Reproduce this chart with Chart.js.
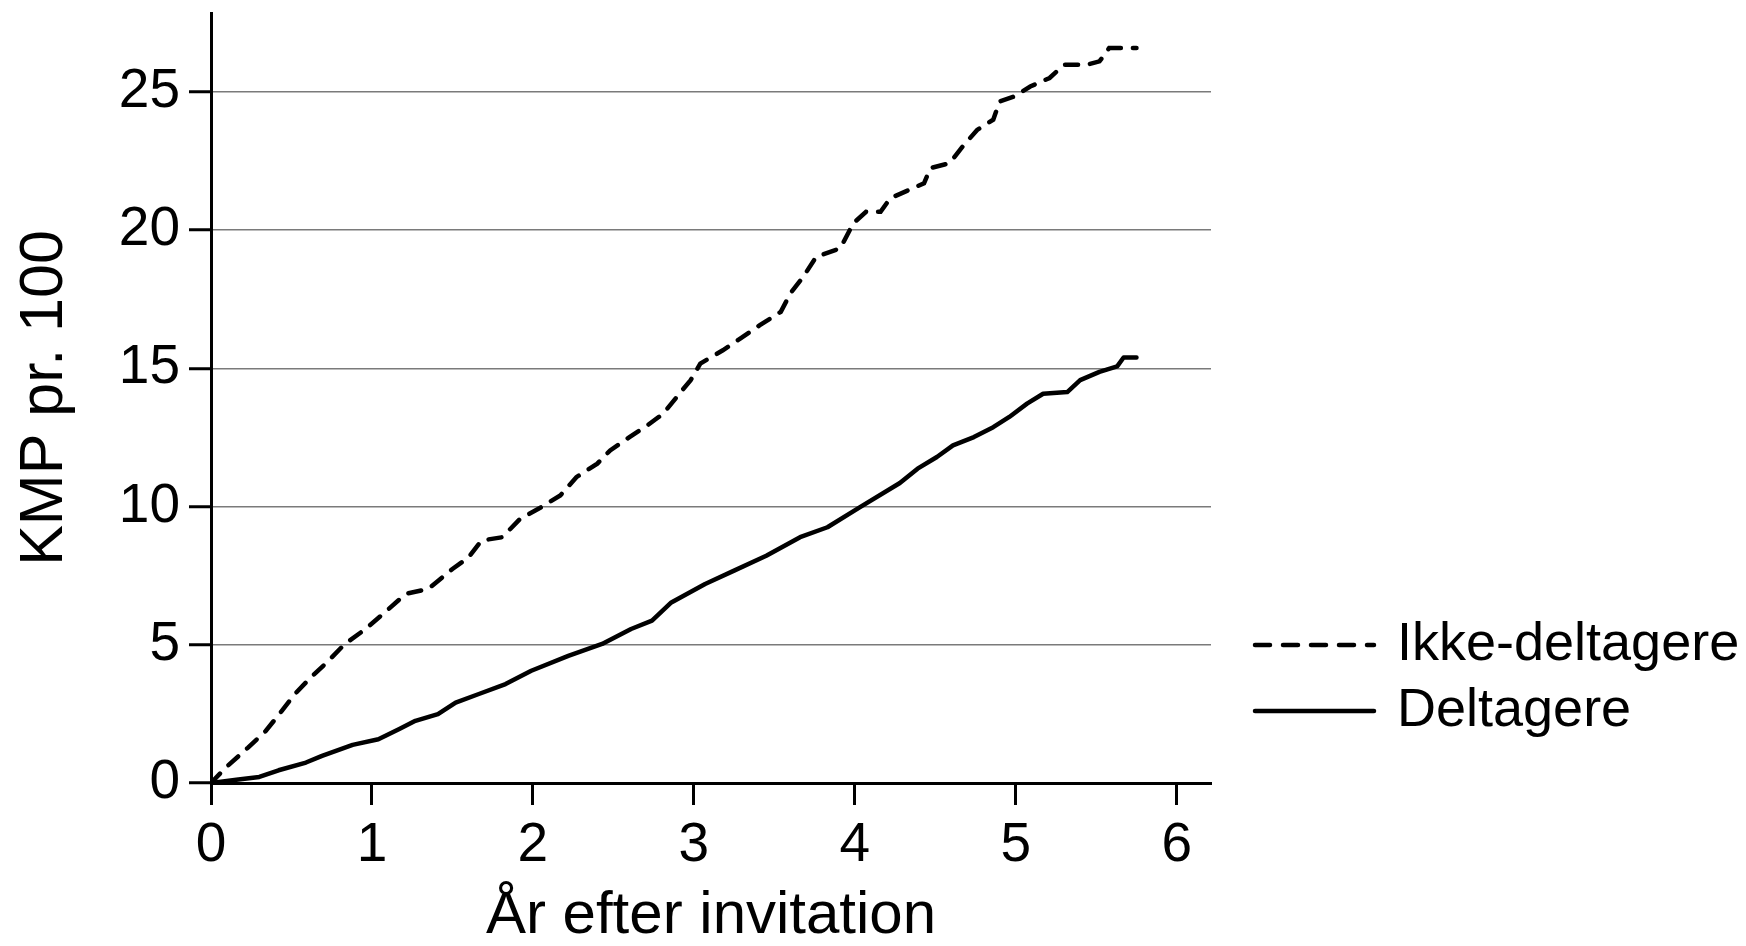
<!DOCTYPE html>
<html>
<head>
<meta charset="utf-8">
<script src="https://cdn.jsdelivr.net/npm/chart.js@4/dist/chart.umd.min.js"></script>
<style>
  body { margin: 0; background: #fff; }
  canvas { display: block; }
</style>
</head>
<body>
<canvas id="kmp" width="1746" height="946"></canvas>
<script>
// years after invitation / KMP per 100
var ikkeX = [0, 0.09, 0.23, 0.34, 0.44, 0.52, 0.61, 0.73, 0.83, 0.96, 1.08, 1.21, 1.35, 1.50, 1.60, 1.68, 1.81, 1.92, 2.05, 2.17, 2.27, 2.40, 2.48, 2.60, 2.71, 2.81, 2.91, 2.98, 3.04, 3.18, 3.29, 3.41, 3.54, 3.60, 3.68, 3.76, 3.91, 3.99, 4.07, 4.16, 4.22, 4.36, 4.43, 4.47, 4.59, 4.67, 4.76, 4.86, 4.90, 4.99, 5.09, 5.21, 5.30, 5.44, 5.52, 5.58, 5.75];
var ikkeY = [0, 0.55, 1.28, 1.88, 2.61, 3.21, 3.76, 4.42, 5.02, 5.57, 6.17, 6.84, 7.02, 7.74, 8.16, 8.77, 8.89, 9.55, 9.97, 10.40, 11.06, 11.55, 12.03, 12.51, 12.93, 13.36, 14.08, 14.57, 15.17, 15.65, 16.08, 16.56, 17.04, 17.71, 18.31, 19.03, 19.34, 20.24, 20.66, 20.66, 21.15, 21.51, 21.69, 22.24, 22.42, 23.02, 23.62, 23.99, 24.65, 24.83, 25.19, 25.50, 25.98, 25.98, 26.10, 26.58, 26.58];

var deltX = [0, 0.17, 0.30, 0.42, 0.59, 0.69, 0.88, 1.04, 1.17, 1.27, 1.41, 1.52, 1.66, 1.83, 1.99, 2.22, 2.43, 2.61, 2.74, 2.86, 3.07, 3.25, 3.45, 3.66, 3.83, 4.03, 4.28, 4.39, 4.51, 4.61, 4.74, 4.86, 4.96, 5.07, 5.17, 5.32, 5.40, 5.52, 5.63, 5.67, 5.75];
var deltY = [0, 0.13, 0.22, 0.46, 0.74, 0.98, 1.38, 1.58, 1.95, 2.25, 2.49, 2.91, 3.21, 3.58, 4.06, 4.60, 5.03, 5.57, 5.87, 6.53, 7.20, 7.68, 8.22, 8.89, 9.25, 9.97, 10.85, 11.37, 11.79, 12.21, 12.51, 12.87, 13.24, 13.72, 14.08, 14.14, 14.57, 14.87, 15.07, 15.39, 15.39];

var seriesNames = ["Ikke-deltagere", "Deltagere"];
var xTicks = [0, 1, 2, 3, 4, 5, 6];
var yTicks = [0, 5, 10, 15, 20, 25];

function pairs(xs, ys) {
  return xs.map(function (x, i) { return { x: x, y: ys[i] }; });
}

var FONT = "'Liberation Sans', Arial, sans-serif";

// legend drawn by hand to the right of the plot
var sideLegend = {
  id: 'sideLegend',
  afterDraw: function (chart) {
    var c = chart.ctx;
    c.save();
    c.strokeStyle = '#000';
    c.lineWidth = 4.5;
    c.lineCap = 'round';
    c.font = '54px ' + FONT;
    c.fillStyle = '#000';
    c.textBaseline = 'middle';
    var rows = [{ y: 645, dash: [15, 13] }, { y: 711, dash: [] }];
    rows.forEach(function (r, i) {
      c.setLineDash(r.dash);
      c.beginPath();
      c.moveTo(1255, r.y);
      c.lineTo(1374, r.y);
      c.stroke();
      c.setLineDash([]);
      c.fillText(seriesNames[i], 1397, r.y);
    });
    c.restore();
  }
};

var ctx = document.getElementById("kmp").getContext('2d');
var myChart = new Chart(ctx, {
  type: 'line',
  data: {
    datasets: [{
      label: seriesNames[0],
      data: pairs(ikkeX, ikkeY),
      borderColor: '#000',
      borderWidth: 4.5,
      borderDash: [13, 12],
      borderCapStyle: 'round',
      pointRadius: 0,
      tension: 0,
      fill: false
    }, {
      label: seriesNames[1],
      data: pairs(deltX, deltY),
      borderColor: '#000',
      borderWidth: 4.5,
      borderCapStyle: 'round',
      borderJoinStyle: 'round',
      pointRadius: 0,
      tension: 0,
      fill: false
    }]
  },
  options: {
    responsive: false,
    animation: false,
    devicePixelRatio: 1,
    layout: { autoPadding: false, padding: { top: 13, right: 535, left: 0, bottom: 0 } },
    plugins: {
      legend: { display: false },
      tooltip: { enabled: false }
    },
    scales: {
      x: {
        type: 'linear',
        min: 0,
        max: 6.213,
        afterFit: function (scale) {
          scale.height = 163;
          scale.paddingLeft = 0;
          scale.paddingRight = 0;
        },
        afterBuildTicks: function (scale) { scale.ticks = xTicks.map(function (v) { return { value: v }; }); },
        border: { color: '#000', width: 3 },
        grid: { drawOnChartArea: false, tickLength: 22, tickColor: '#000', tickWidth: 3 },
        ticks: { color: '#000', font: { family: FONT, size: 55 }, padding: 8, maxRotation: 0 },
        title: {
          display: true,
          text: 'År efter invitation',
          color: '#000',
          font: { family: FONT, size: 60, lineHeight: 0.86 },
          padding: { top: 0, bottom: 4 }
        }
      },
      y: {
        min: 0,
        max: 27.85,
        afterFit: function (scale) {
          scale.width = 211;
          scale.paddingTop = 0;
          scale.paddingBottom = 0;
        },
        afterBuildTicks: function (scale) { scale.ticks = yTicks.map(function (v) { return { value: v }; }); },
        border: { color: '#000', width: 3 },
        grid: {
          color: function (c) { return c.tick && c.tick.value === 0 ? 'rgba(0,0,0,0)' : '#7a7a7a'; },
          lineWidth: 1.5,
          tickLength: 22,
          tickColor: '#000',
          tickWidth: 3
        },
        ticks: { color: '#000', font: { family: FONT, size: 55 }, padding: 9 },
        title: {
          display: true,
          text: 'KMP pr. 100',
          color: '#000',
          font: { family: FONT, size: 61, lineHeight: 0.86 },
          padding: { top: 19, bottom: 0 }
        }
      }
    }
  },
  plugins: [sideLegend]
});
</script>
</body>
</html>
